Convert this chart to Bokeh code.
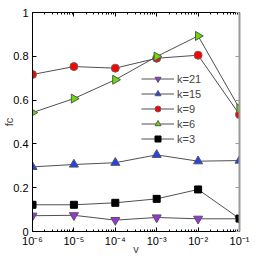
from bokeh.plotting import figure
from bokeh.models import LogAxis, LinearAxis, FixedTicker, Legend, LegendItem, Range1d, LogTicker
from bokeh.embed import file_html
from bokeh.resources import INLINE
import math

v = [1e-6, 1e-5, 1e-4, 1e-3, 1e-2, 1e-1]
k21 = [0.072, 0.074, 0.052, 0.064, 0.058, 0.058]
k15 = [0.295, 0.306, 0.314, 0.350, 0.321, 0.324]
k9 = [0.717, 0.753, 0.746, 0.791, 0.805, 0.534]
k6 = [0.543, 0.607, 0.693, 0.799, 0.893, 0.562]
k3 = [0.122, 0.122, 0.131, 0.149, 0.192, 0.059]
x_tick_labels = ["10⁻⁶", "10⁻⁵", "10⁻⁴", "10⁻³", "10⁻²", "10⁻¹"]
y_ticks = [0, 0.2, 0.4, 0.6, 0.8, 1.0]
y_tick_labels = ["0", "0.2", "0.4", "0.6", "0.8", "1"]
x_label = "v"
y_label = "fc"

FONT = "Liberation Sans"
p = figure(width=257, height=257, x_axis_type="log", output_backend="svg",
           toolbar_location=None, x_range=Range1d(1e-6, 1e-1), y_range=Range1d(0, 1),
           min_border_left=28, min_border_right=18, min_border_top=12, min_border_bottom=26)
p.xgrid.visible = False
p.ygrid.visible = False
p.outline_line_color = None

def style_axis(ax):
    ax.axis_line_color = "black"
    ax.major_tick_in = 4
    ax.major_tick_out = 0
    ax.minor_tick_in = 2
    ax.minor_tick_out = 0
    ax.major_tick_line_color = "black"
    ax.minor_tick_line_color = "black"
    ax.major_label_text_font = FONT
    ax.major_label_text_font_size = "11px"
    ax.major_label_text_color = "black"
    ax.axis_label_text_font = FONT
    ax.axis_label_text_font_size = "11px"
    ax.axis_label_text_font_style = "normal"

xa = p.xaxis[0]
style_axis(xa)
xa.ticker = LogTicker(desired_num_ticks=6, num_minor_ticks=10)
xa.major_label_overrides = {t: l for t, l in zip(v, x_tick_labels)}
xa.major_label_standoff = 3
xa.axis_label = x_label
xa.axis_label_standoff = -7

ya = p.yaxis[0]
style_axis(ya)
ya.ticker = FixedTicker(ticks=y_ticks)
ya.minor_tick_line_color = None
ya.major_label_overrides = {t: l for t, l in zip(y_ticks, y_tick_labels)}
ya.major_label_standoff = 4
ya.axis_label = y_label
ya.axis_label_standoff = -5

top = LogAxis(ticker=LogTicker(desired_num_ticks=6, num_minor_ticks=10))
style_axis(top)
top.major_label_overrides = {t: "" for t in v}
top.major_label_standoff = 0
p.add_layout(top, "above")

right = LinearAxis(ticker=FixedTicker(ticks=y_ticks))
style_axis(right)
right.axis_line_color = "#999999"
right.axis_line_width = 2
right.major_tick_line_color = "#999999"
right.major_label_overrides = {t: "" for t in y_ticks}
right.major_label_standoff = 0
p.add_layout(right, "right")

LINE = "#505050"
r21l = p.line(v, k21, line_color=LINE, line_width=1)
r21m = p.scatter(v, k21, marker="inverted_triangle", size=9, fill_color="#9933dd", line_color="#555555")
r15l = p.line(v, k15, line_color=LINE, line_width=1)
r15m = p.scatter(v, k15, marker="triangle", size=9, fill_color="#2244ee", line_color="#555555")
r9l = p.line(v, k9, line_color=LINE, line_width=1)
r9m = p.scatter(v, k9, marker="circle", size=8, fill_color="#ff0000", line_color="#666666")
r6l = p.line(v, k6, line_color=LINE, line_width=1)
r6m = p.scatter(v, k6, marker="triangle", angle=-math.pi / 2, size=9, fill_color="#66dd00", line_color="#555555")
r3l = p.line(v, k3, line_color=LINE, line_width=1)
r3m = p.scatter(v, k3, marker="square", size=7, fill_color="black", line_color="black")

legend = Legend(items=[
    LegendItem(label="k=21", renderers=[r21l, r21m]),
    LegendItem(label="k=15", renderers=[r15l, r15m]),
    LegendItem(label="k=9", renderers=[r9l, r9m]),
    LegendItem(label="k=6", renderers=[r6l, r6m]),
    LegendItem(label="k=3", renderers=[r3l, r3m]),
], location=(109, 85))
legend.border_line_color = None
legend.background_fill_alpha = 0
legend.label_text_font = FONT
legend.label_text_font_size = "11px"
legend.glyph_width = 33
legend.glyph_height = 15
legend.label_height = 15
legend.label_standoff = 3
legend.spacing = 0
legend.padding = 0
legend.margin = 0
p.add_layout(legend, "center")

open("out.html", "w").write(file_html(p, INLINE))
